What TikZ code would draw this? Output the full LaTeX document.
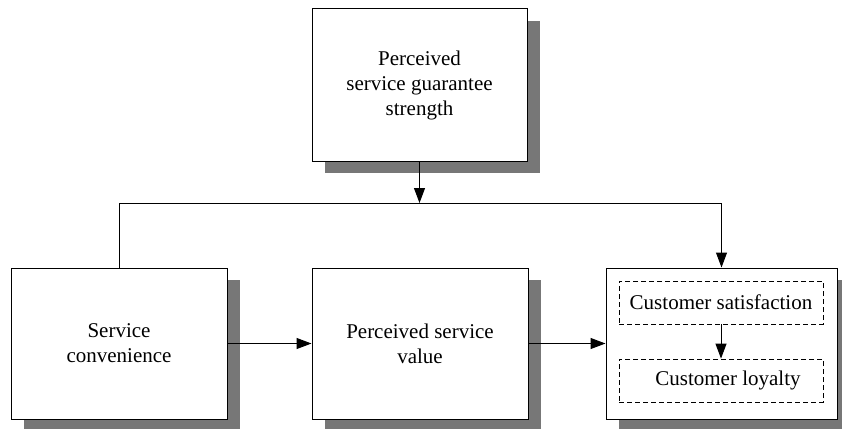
\documentclass[tikz,border=0pt]{standalone}
\usepackage{fontspec}
\setmainfont{Liberation Serif}
\usetikzlibrary{shadows,arrows.meta}
\definecolor{shadowgray}{HTML}{777777}
\begin{document}
\begin{tikzpicture}[x=1pt,y=-1pt,
  box/.style={draw, line width=1pt, fill=white, align=center, inner sep=0pt,
    font=\fontsize{21}{25}\selectfont,
    drop shadow={shadow xshift=13pt, shadow yshift=-12pt, fill=shadowgray, opacity=1}},
  inbox/.style={draw, line width=0.8pt, dash pattern=on 5pt off 3pt, align=center,
    inner sep=0pt, minimum width=204pt, minimum height=43pt,
    font=\fontsize{21}{25}\selectfont},
  arr/.style={line width=1pt, -{Triangle[length=15pt,width=11pt]}},
  ln/.style={line width=1pt}]
\useasboundingbox (0,0) rectangle (842,428);
\node[box, minimum width=215pt, minimum height=152pt] (top) at (419.5,85) {Perceived\\service guarantee\\strength};
\node[box, minimum width=216pt, minimum height=151pt] (conv) at (119,343.5) {Service\\convenience};
\node[box, minimum width=216pt, minimum height=151pt] (value) at (420,343.5) {Perceived service\\value};
\node[box, minimum width=231pt, minimum height=151pt] (out) at (721.5,343.5) {};
\node[inbox] (sat) at (721,302.5) {Customer satisfaction};
\node[inbox] (loy) at (721,380.5) {\hspace*{14pt}Customer loyalty};
\coordinate (bus) at (0,203);
\draw[arr] (top.south) -- (top.south |- bus);
\draw[arr] (conv.north) -- (conv.north |- bus) -- (out.north |- bus) -- (out.north);
\draw[arr] (conv.east) -- (value.west);
\draw[arr] (value.east) -- (out.west);
\draw[arr] (sat.south) -- (loy.north);
\end{tikzpicture}
\end{document}
